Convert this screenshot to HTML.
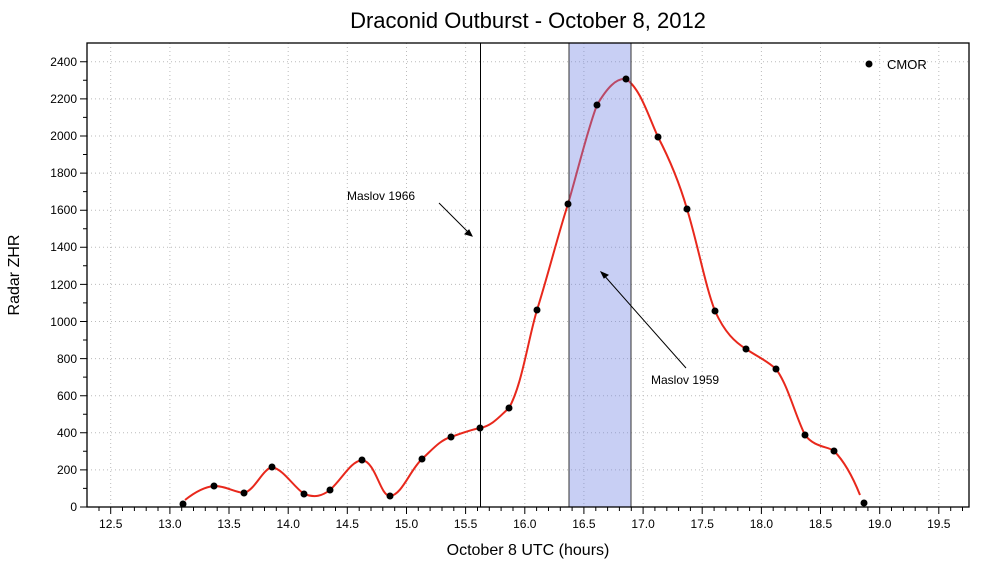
<!DOCTYPE html>
<html><head><style>body{margin:0;background:#fff}svg{display:block}</style></head><body>
<svg width="986" height="564" xmlns="http://www.w3.org/2000/svg" font-family="Liberation Sans, Arial, sans-serif">
<text x="528" y="28" font-size="22" text-anchor="middle">Draconid Outburst - October 8, 2012</text>
<g stroke="#bbb" stroke-width="1" stroke-dasharray="1,3">
<line x1="110.7" y1="43" x2="110.7" y2="507"/><line x1="169.9" y1="43" x2="169.9" y2="507"/><line x1="229" y1="43" x2="229" y2="507"/><line x1="288.2" y1="43" x2="288.2" y2="507"/><line x1="347.3" y1="43" x2="347.3" y2="507"/><line x1="406.5" y1="43" x2="406.5" y2="507"/><line x1="465.6" y1="43" x2="465.6" y2="507"/><line x1="524.8" y1="43" x2="524.8" y2="507"/><line x1="583.9" y1="43" x2="583.9" y2="507"/><line x1="643.1" y1="43" x2="643.1" y2="507"/><line x1="702.2" y1="43" x2="702.2" y2="507"/><line x1="761.4" y1="43" x2="761.4" y2="507"/><line x1="820.5" y1="43" x2="820.5" y2="507"/><line x1="879.7" y1="43" x2="879.7" y2="507"/><line x1="938.8" y1="43" x2="938.8" y2="507"/>
<line x1="87" y1="469.9" x2="969" y2="469.9"/><line x1="87" y1="432.8" x2="969" y2="432.8"/><line x1="87" y1="395.7" x2="969" y2="395.7"/><line x1="87" y1="358.6" x2="969" y2="358.6"/><line x1="87" y1="321.5" x2="969" y2="321.5"/><line x1="87" y1="284.4" x2="969" y2="284.4"/><line x1="87" y1="247.3" x2="969" y2="247.3"/><line x1="87" y1="210.2" x2="969" y2="210.2"/><line x1="87" y1="173.1" x2="969" y2="173.1"/><line x1="87" y1="136" x2="969" y2="136"/><line x1="87" y1="98.9" x2="969" y2="98.9"/><line x1="87" y1="61.8" x2="969" y2="61.8"/>
</g>
<path d="M185,500 C195,492 204,487 214,486 C226,486 234,492 244,493 C255,490 262,470 272,467 C284,470 292,485 304,494 C315,498 322,496 330,490 C343,478 350,462 362,460 C376,462 380,496 390,496 C402,495 410,470 422,459 C432,450 440,440 451,437 C462,433 470,430 480,428 C492,426 500,416 509,408 C522,385 528,340 537,310 C548,275 558,235 568,204 C578,170 588,128 597,105 C607,88 616,78 626,79 C640,88 648,115 658,137 C670,160 680,185 687,209 C698,245 705,285 715,311 C725,333 735,342 746,349 C758,357 766,360 776,369 C788,385 795,415 805,435 C815,448 828,446 834,451 C845,462 854,480 860,495" fill="none" stroke="#e8281c" stroke-width="2"/>
<rect x="569" y="43" width="62" height="464" fill="rgba(110,130,225,0.38)" stroke="#333" stroke-width="1"/>
<line x1="480.5" y1="43" x2="480.5" y2="507" stroke="#000" stroke-width="1"/>
<g fill="#000">
<circle cx="183" cy="504" r="3.5"/><circle cx="214" cy="486" r="3.5"/><circle cx="244" cy="493" r="3.5"/><circle cx="272" cy="467" r="3.5"/><circle cx="304" cy="494" r="3.5"/><circle cx="330" cy="490" r="3.5"/><circle cx="362" cy="460" r="3.5"/><circle cx="390" cy="496" r="3.5"/><circle cx="422" cy="459" r="3.5"/><circle cx="451" cy="437" r="3.5"/><circle cx="480" cy="428" r="3.5"/><circle cx="509" cy="408" r="3.5"/><circle cx="537" cy="310" r="3.5"/><circle cx="568" cy="204" r="3.5"/><circle cx="597" cy="105" r="3.5"/><circle cx="626" cy="79" r="3.5"/><circle cx="658" cy="137" r="3.5"/><circle cx="687" cy="209" r="3.5"/><circle cx="715" cy="311" r="3.5"/><circle cx="746" cy="349" r="3.5"/><circle cx="776" cy="369" r="3.5"/><circle cx="805" cy="435" r="3.5"/><circle cx="834" cy="451" r="3.5"/><circle cx="864" cy="503" r="3.5"/>
<circle cx="869" cy="64" r="3.5"/></g>
<text x="887" y="69" font-size="13">CMOR</text>
<rect x="87" y="43" width="882" height="464" fill="none" stroke="#000" stroke-width="1.3"/>
<g stroke="#000" stroke-width="1">
<path d="M110.7,507v7M169.9,507v7M229,507v7M288.2,507v7M347.3,507v7M406.5,507v7M465.6,507v7M524.8,507v7M583.9,507v7M643.1,507v7M702.2,507v7M761.4,507v7M820.5,507v7M879.7,507v7M938.8,507v7"/>
<path id="mx" d="M99,507v4M122.5,507v4M134.4,507v4M146.2,507v4M158,507v4M181.7,507v4M193.5,507v4M205.3,507v4M217.2,507v4M240.8,507v4M252.7,507v4M264.5,507v4M276.3,507v4M300,507v4M311.8,507v4M323.7,507v4M335.5,507v4M359.2,507v4M371,507v4M382.8,507v4M394.7,507v4M418.3,507v4M430.1,507v4M442,507v4M453.8,507v4M477.5,507v4M489.3,507v4M501.1,507v4M513,507v4M536.6,507v4M548.5,507v4M560.3,507v4M572.1,507v4M595.8,507v4M607.6,507v4M619.4,507v4M631.3,507v4M654.9,507v4M666.8,507v4M678.6,507v4M690.4,507v4M714.1,507v4M725.9,507v4M737.8,507v4M749.6,507v4M773.2,507v4M785.1,507v4M796.9,507v4M808.7,507v4M832.4,507v4M844.2,507v4M856.1,507v4M867.9,507v4M891.5,507v4M903.4,507v4M915.2,507v4M927,507v4M950.7,507v4M962.5,507v4"/>
<path d="M80,507h7M80,469.9h7M80,432.8h7M80,395.7h7M80,358.6h7M80,321.5h7M80,284.4h7M80,247.3h7M80,210.2h7M80,173.1h7M80,136h7M80,98.9h7M80,61.8h7"/>
<path d="M83,488.4h4M83,451.3h4M83,414.2h4M83,377.1h4M83,340h4M83,302.9h4M83,265.8h4M83,228.7h4M83,191.6h4M83,154.5h4M83,117.4h4M83,80.3h4"/>
</g>
<g font-size="12" text-anchor="end">
<text x="77" y="511">0</text><text x="77" y="474">200</text><text x="77" y="437">400</text><text x="77" y="400">600</text><text x="77" y="363">800</text><text x="77" y="326">1000</text><text x="77" y="289">1200</text><text x="77" y="251">1400</text><text x="77" y="214">1600</text><text x="77" y="177">1800</text><text x="77" y="140">2000</text><text x="77" y="103">2200</text><text x="77" y="66">2400</text>
</g>
<g font-size="12" text-anchor="middle">
<text x="110.7" y="528">12.5</text><text x="169.9" y="528">13.0</text><text x="229" y="528">13.5</text><text x="288.2" y="528">14.0</text><text x="347.3" y="528">14.5</text><text x="406.5" y="528">15.0</text><text x="465.6" y="528">15.5</text><text x="524.8" y="528">16.0</text><text x="583.9" y="528">16.5</text><text x="643.1" y="528">17.0</text><text x="702.2" y="528">17.5</text><text x="761.4" y="528">18.0</text><text x="820.5" y="528">18.5</text><text x="879.7" y="528">19.0</text><text x="938.8" y="528">19.5</text>
</g>
<text x="528" y="555" font-size="16" text-anchor="middle">October 8 UTC (hours)</text>
<text transform="translate(19,275) rotate(-90)" font-size="16" text-anchor="middle">Radar ZHR</text>
<text x="347" y="200" font-size="12">Maslov 1966</text>
<text x="651" y="384" font-size="12">Maslov 1959</text>
<g stroke="#000" stroke-width="1" fill="#000">
<line x1="439" y1="203" x2="471" y2="235"/><path d="M472,236 l-7,-2 l4,-4z"/>
<line x1="686" y1="368" x2="602" y2="273"/><path d="M601,272 l7,3 l-4,3z"/>
</g>
</svg>
</body></html>
